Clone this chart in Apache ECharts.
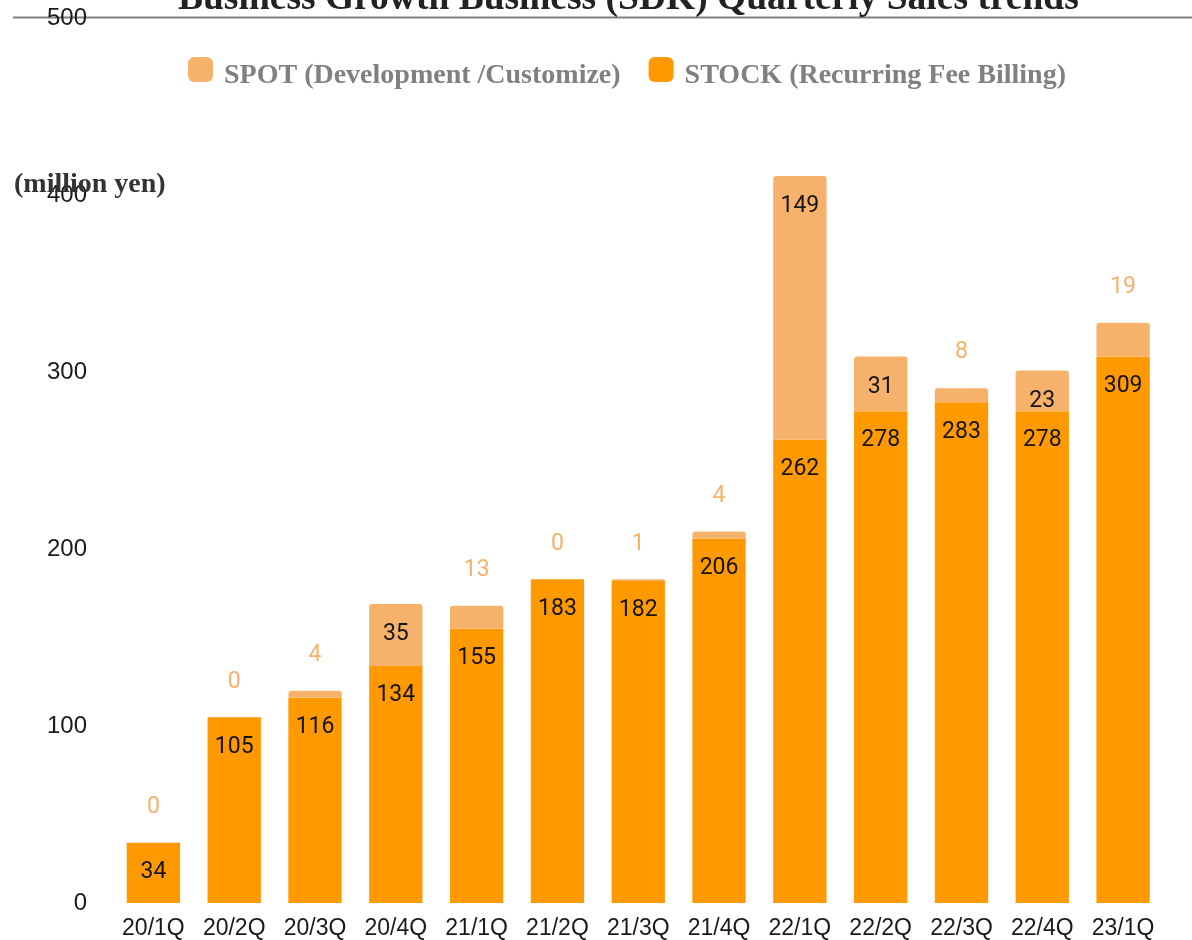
<!DOCTYPE html>
<html>
<head>
<meta charset="utf-8">
<script src="https://cdn.jsdelivr.net/npm/echarts@6/dist/echarts.min.js"></script>
<style>
html,body{margin:0;padding:0;background:#fff;}
#chart{width:1192px;height:940px;}
</style>
</head>
<body>
<div id="chart"></div>
<script>
var categories = ['20/1Q','20/2Q','20/3Q','20/4Q','21/1Q','21/2Q','21/3Q','21/4Q','22/1Q','22/2Q','22/3Q','22/4Q','23/1Q'];
var stockValues = [34,105,116,134,155,183,182,206,262,278,283,278,309];
var spotValues = [0,0,4,35,13,0,1,4,149,31,8,23,19];
var seriesNames = ['SPOT (Development /Customize)','STOCK (Recurring Fee Billing)'];
var titleText = 'Business Growth Business (SDK) Quarterly Sales trends';
var unitText = '(million yen)';

var STOCK_COLOR = '#FF9900';
var SPOT_COLOR = '#F6B26B';
var LABEL_FONT = 'Roboto';

var spotData = spotValues.map(function (v) {
  var fits = v >= 20;
  return {
    value: v,
    label: fits ? {
      position: 'insideTop', distance: 19, color: '#151515'
    } : {
      position: 'top', distance: 24, color: SPOT_COLOR
    }
  };
});

var legendFont = {fontFamily: 'Liberation Serif', fontWeight: 'bold', fontSize: 28, color: '#808080'};

var chart = echarts.init(document.getElementById('chart'), null, {renderer: 'canvas'});
chart.setOption({
  animation: false,
  backgroundColor: '#ffffff',
  title: [{
    text: titleText,
    left: 173,
    top: -25,
    textStyle: {fontFamily: 'Liberation Serif', fontWeight: 'bold', fontSize: 37.5, color: '#222'}
  }, {
    text: unitText,
    left: 9,
    top: 166,
    textStyle: {fontFamily: 'Liberation Serif', fontWeight: 'bold', fontSize: 28, color: '#333'}
  }],
  graphic: [{
    type: 'line',
    shape: {x1: 13, y1: 17.5, x2: 1192, y2: 17.5},
    style: {stroke: '#808080', lineWidth: 1.8},
    z: 0
  }],
  legend: {
    data: seriesNames.slice(),
    left: 183,
    top: 52,
    itemWidth: 25,
    itemHeight: 25,
    itemGap: 28,
    padding: 5,
    formatter: function (name) { return '{t|' + name + '}'; },
    textStyle: {
      fontFamily: legendFont.fontFamily, fontWeight: 'bold', fontSize: 28, color: '#808080',
      rich: {
        t: {fontFamily: legendFont.fontFamily, fontWeight: 'bold', fontSize: 28, color: '#808080', padding: [12, 0, 0, 6]}
      }
    }
  },
  grid: {left: 113, right: 28.5, top: 18.5, bottom: 35.5, containLabel: false},
  xAxis: {
    type: 'category',
    data: categories,
    axisLine: {show: false},
    axisTick: {show: false},
    axisLabel: {fontFamily: 'Liberation Sans', fontSize: 23, color: '#1a1a1a', margin: 14, interval: 0}
  },
  yAxis: {
    type: 'value',
    min: 0, max: 500, interval: 100,
    axisLine: {show: false},
    axisTick: {show: false},
    splitLine: {show: false},
    axisLabel: {fontFamily: 'Liberation Sans', fontSize: 24, color: '#1a1a1a', margin: 26}
  },
  series: [{
    name: seriesNames[1],
    type: 'bar',
    stack: 'total',
    barCategoryGap: '34%',
    data: stockValues,
    itemStyle: {color: STOCK_COLOR},
    label: {show: true, position: 'insideTop', distance: 18, fontFamily: LABEL_FONT, fontSize: 23, color: '#151515'}
  }, {
    name: seriesNames[0],
    type: 'bar',
    stack: 'total',
    barCategoryGap: '34%',
    data: spotData,
    itemStyle: {color: SPOT_COLOR, borderRadius: [3, 3, 0, 0]},
    label: {show: true, fontFamily: LABEL_FONT, fontSize: 23}
  }]
});
</script>
</body>
</html>
